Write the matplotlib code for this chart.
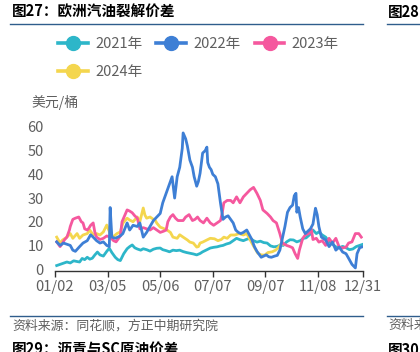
import matplotlib
matplotlib.use("Agg")
import matplotlib.pyplot as plt
from matplotlib.lines import Line2D

plt.rcParams['font.family'] = ['Noto Sans CJK SC', 'DejaVu Sans']

W, H = 420, 352

# ---- data (day of year, value in USD/bbl) ----
doy_2021 = [4, 8, 12, 16, 20, 24, 28, 31, 34, 37, 40, 43, 46, 49, 52, 55, 59, 63, 66, 69, 73, 76, 79, 83, 87,
            90, 93, 96, 99, 103, 106, 110, 114, 118, 122, 126, 129, 133, 137, 141, 145, 149, 153, 157, 161, 165,
            169, 173, 176, 180, 185, 189, 193, 197, 200, 204, 208, 212, 216, 220, 224, 228, 232, 236, 240, 244,
            248, 252, 256, 260, 264, 268, 271, 275, 279, 283, 287, 291, 295, 298, 302, 306, 310, 313, 317, 321,
            325, 329, 333, 337, 341, 345, 349, 353, 357, 361, 365]
val_2021 = [1.5, 2.0, 2.5, 3.0, 2.6, 3.5, 3.2, 3.0, 4.5, 4.0, 5.0, 4.2, 4.6, 6.0, 7.2, 6.0, 5.5, 7.5, 8.8, 7.0,
            5.0, 4.0, 3.6, 6.5, 8.6, 9.5, 10.2, 9.0, 8.5, 8.0, 8.6, 8.2, 7.6, 8.4, 8.8, 8.9, 8.2, 7.8, 7.3, 8.0,
            7.8, 8.0, 7.4, 7.0, 6.7, 6.4, 6.0, 6.6, 7.3, 8.0, 8.9, 9.2, 9.4, 9.8, 10.0, 10.6, 11.0, 12.0, 13.0,
            12.4, 12.0, 12.6, 13.0, 12.0, 11.4, 11.8, 11.2, 11.0, 9.8, 9.4, 9.6, 10.2, 10.0, 11.5, 12.4, 12.3,
            11.5, 12.0, 13.0, 13.2, 14.5, 16.5, 15.0, 15.7, 14.4, 13.5, 11.5, 10.5, 9.4, 9.0, 9.6, 9.0, 8.2,
            8.5, 9.5, 10.0, 10.5]

doy_2022 = [4, 8, 12, 16, 20, 23, 26, 31, 35, 40, 44, 47, 51, 55, 59, 63, 66, 67, 69, 73, 76, 79, 82, 87, 90,
            94, 99, 102, 106, 110, 114, 118, 122, 126, 129, 134, 137, 140, 141, 143, 146, 149, 152, 153, 156,
            158, 161, 164, 166, 169, 171, 173, 176, 179, 181, 182, 184, 186, 188, 191, 194, 197, 200, 203, 206,
            209, 212, 215, 218, 221, 224, 228, 231, 234, 237, 240, 242, 245, 248, 251, 254, 257, 261, 264, 267,
            270, 273, 276, 279, 282, 284, 286, 287, 289, 291, 294, 297, 300, 303, 306, 309, 311, 313, 316, 321,
            325, 329, 333, 337, 341, 345, 348, 352, 356, 358, 361, 365]
val_2022 = [11.5, 10.0, 11.0, 10.5, 10.0, 8.0, 7.5, 9.5, 11.0, 12.0, 14.5, 13.5, 12.0, 11.0, 11.5, 10.0, 9.5,
            26.0, 13.5, 13.0, 13.5, 14.0, 15.0, 19.5, 16.5, 18.5, 18.0, 19.5, 13.5, 15.5, 18.0, 20.5, 22.0,
            23.5, 28.0, 33.0, 36.0, 39.0, 36.0, 30.0, 39.0, 43.0, 51.0, 57.5, 55.0, 52.0, 46.0, 43.0, 39.0,
            35.0, 37.0, 40.5, 49.0, 50.0, 51.5, 45.0, 43.0, 42.0, 40.0, 39.0, 36.0, 28.0, 21.0, 22.0, 22.5,
            21.0, 19.5, 16.5, 15.5, 15.0, 15.5, 16.5, 14.5, 12.5, 9.5, 7.5, 6.5, 5.0, 5.5, 6.0, 5.2, 5.0, 5.5,
            5.8, 8.0, 13.0, 18.0, 24.0, 26.0, 27.0, 31.0, 32.0, 24.0, 26.0, 22.0, 17.0, 15.0, 16.0, 17.0, 19.0,
            25.7, 23.0, 18.0, 13.5, 12.3, 9.5, 11.4, 8.0, 9.3, 7.2, 6.5, 4.6, 2.0, 0.5, 6.5, 9.0, 9.5]

doy_2023 = [4, 8, 11, 13, 16, 19, 20, 23, 26, 30, 33, 35, 37, 40, 42, 44, 47, 49, 51, 55, 59, 63, 67, 71, 74,
            77, 79, 81, 84, 87, 90, 93, 96, 99, 102, 106, 110, 114, 118, 122, 126, 130, 133, 135, 138, 141, 144,
            147, 150, 153, 156, 160, 164, 167, 170, 173, 177, 181, 185, 189, 193, 197, 199, 201, 205, 209, 212,
            216, 220, 224, 228, 232, 236, 240, 244, 247, 252, 256, 259, 263, 267, 270, 275, 279, 282, 285, 288,
            290, 294, 297, 301, 304, 306, 310, 313, 317, 321, 325, 329, 333, 337, 341, 345, 348, 352, 356, 360,
            363]
val_2023 = [11.5, 9.5, 11.0, 12.3, 13.5, 16.5, 18.0, 21.0, 21.5, 22.0, 20.0, 19.5, 17.0, 16.5, 17.3, 18.5,
            19.5, 15.5, 13.5, 12.5, 13.0, 14.0, 13.5, 12.0, 11.5, 13.0, 14.0, 20.0, 22.5, 25.0, 24.5, 23.8, 22.5,
            21.5, 17.0, 17.5, 17.0, 16.5, 17.5, 16.5, 15.5, 16.0, 16.5, 20.0, 22.0, 23.0, 21.5, 20.5, 20.5, 20.5,
            22.0, 23.0, 20.5, 21.0, 22.0, 20.5, 19.5, 21.5, 19.5, 18.5, 19.5, 20.5, 23.5, 28.0, 29.0, 29.0, 28.0,
            30.5, 28.0, 30.5, 32.0, 33.5, 34.5, 32.0, 29.0, 25.0, 23.5, 22.0, 20.5, 19.5, 15.0, 11.0, 10.0, 9.5,
            9.0, 6.5, 4.5, 8.0, 13.0, 14.4, 15.0, 17.0, 12.5, 13.0, 11.4, 12.0, 10.0, 13.0, 11.0, 13.0, 9.3, 8.9,
            9.3, 11.0, 11.5, 15.0, 15.0, 13.5]

doy_2024 = [4, 8, 11, 16, 20, 23, 28, 31, 35, 40, 43, 47, 51, 55, 59, 63, 67, 70, 75, 79, 82, 87, 90, 94, 99,
            102, 106, 108, 110, 114, 118, 120, 122, 126, 129, 134, 138, 141, 146, 149, 153, 158, 161, 165, 169,
            171, 173, 176, 181, 185, 190, 194, 198, 201, 205, 209, 214, 219, 224, 228, 231, 234, 238, 241, 245,
            249, 253, 258, 262, 265, 268, 271]
val_2024 = [13.5, 11.0, 12.3, 13.5, 15.0, 13.0, 15.0, 13.0, 14.4, 15.0, 16.5, 14.4, 15.0, 14.4, 15.7, 18.6,
            15.0, 13.5, 15.0, 15.7, 19.4, 21.5, 20.7, 20.0, 22.0, 20.0, 25.8, 22.8, 21.5, 22.0, 21.0, 20.7, 19.4,
            17.7, 17.3, 16.5, 15.5, 13.5, 13.0, 14.5, 13.5, 12.3, 11.4, 11.0, 9.3, 9.5, 11.0, 11.4, 12.3, 13.0,
            12.8, 12.0, 12.5, 13.5, 13.0, 14.4, 14.4, 15.0, 14.4, 15.0, 13.0, 11.0, 8.5, 6.7, 6.0, 5.9, 7.0, 7.3,
            8.0, 9.0, 10.5, 10.5]

series_names = ['2021年', '2022年', '2023年', '2024年']
colors = ['#2DB6C9', '#3E7FD5', '#F5589E', '#F4D64E']

tick_pos = [2, 64, 126, 188, 250, 312, 365]
tick_labels = ['01/02', '03/05', '05/06', '07/07', '09/07', '11/08', '12/31']
y_ticks = [0, 10, 20, 30, 40, 50, 60]

grey = '#5F5F5F'
navy = '#2F5D8C'

fig = plt.figure(figsize=(W / 100, H / 100), dpi=100)

ax = fig.add_axes([55 / W, (H - 271) / H, 308 / W, 144 / H])
data = [(doy_2021, val_2021), (doy_2022, val_2022), (doy_2023, val_2023), (doy_2024, val_2024)]
for i in [0, 3, 2, 1]:
    x, y = data[i]
    ax.plot(x, y, color=colors[i], lw=2.0, solid_joinstyle='round', zorder=3 + (i == 1))
handles = [Line2D([], [], color=colors[i], lw=2.6, marker='o', markersize=10) for i in range(4)]

ax.set_xlim(2, 365)
ax.set_ylim(-0.8, 60)
for s in ['top', 'right', 'left']:
    ax.spines[s].set_visible(False)
ax.spines['bottom'].set_color('#333333')
ax.spines['bottom'].set_linewidth(1.0)
ax.set_xticks(tick_pos)
ax.set_xticklabels(tick_labels)
ax.set_yticks(y_ticks)
ax.set_yticklabels([str(v) for v in y_ticks])
ax.tick_params(axis='x', direction='out', length=4, width=1, color='#333333', pad=2.5,
               labelsize=10.5, labelcolor=grey)
ax.tick_params(axis='y', length=0, pad=8, labelsize=10.5, labelcolor=grey)

# row-wise legend order: 2021, 2022, 2023 / 2024 (matplotlib fills columns first)
leg_order = [0, 3, 1, 2]
leg = fig.legend([handles[i] for i in leg_order], [series_names[i] for i in leg_order], ncol=3,
                 loc='upper left', bbox_to_anchor=(58 / W, 1 - 37 / H), frameon=False, fontsize=10.5,
                 handlelength=2.05, handletextpad=0.5, columnspacing=0.95, labelspacing=0.95,
                 borderpad=0, borderaxespad=0)
for t in leg.get_texts():
    t.set_color(grey)

fig.text(31 / W, 1 - 103 / H, '美元/桶', fontsize=10, color=grey, va='center', ha='left')

# header / footer
fig.text(12 / W, 1 - 12 / H, '图27：欧洲汽油裂解价差', fontsize=10.5, fontweight='bold',
         color='black', va='center', ha='left')
fig.text(388 / W, 1 - 12 / H, '图28', fontsize=10.5, fontweight='bold',
         color='black', va='center', ha='left')
fig.add_artist(Line2D([10 / W, 363 / W], [1 - 23.5 / H, 1 - 23.5 / H], color=navy, lw=1.0))
fig.add_artist(Line2D([387 / W, 1.0], [1 - 23.5 / H, 1 - 23.5 / H], color=navy, lw=1.0))
fig.add_artist(Line2D([10 / W, 363 / W], [1 - 315.5 / H, 1 - 315.5 / H], color=navy, lw=1.0))
fig.add_artist(Line2D([387 / W, 1.0], [1 - 315.5 / H, 1 - 315.5 / H], color=navy, lw=1.0))
fig.text(12 / W, 1 - 326 / H, '资料来源：同花顺，方正中期研究院', fontsize=9.3, color=grey,
         va='center', ha='left', style='italic')
fig.text(388 / W, 1 - 326 / H, '资料来源', fontsize=9.3, color=grey,
         va='center', ha='left', style='italic')
fig.text(12 / W, 1 - 350 / H, '图29：沥青与SC原油价差', fontsize=10.5, fontweight='bold',
         color='black', va='center', ha='left')
fig.text(388 / W, 1 - 350 / H, '图30', fontsize=10.5, fontweight='bold',
         color='black', va='center', ha='left')

fig.savefig('out.png', dpi=100)
